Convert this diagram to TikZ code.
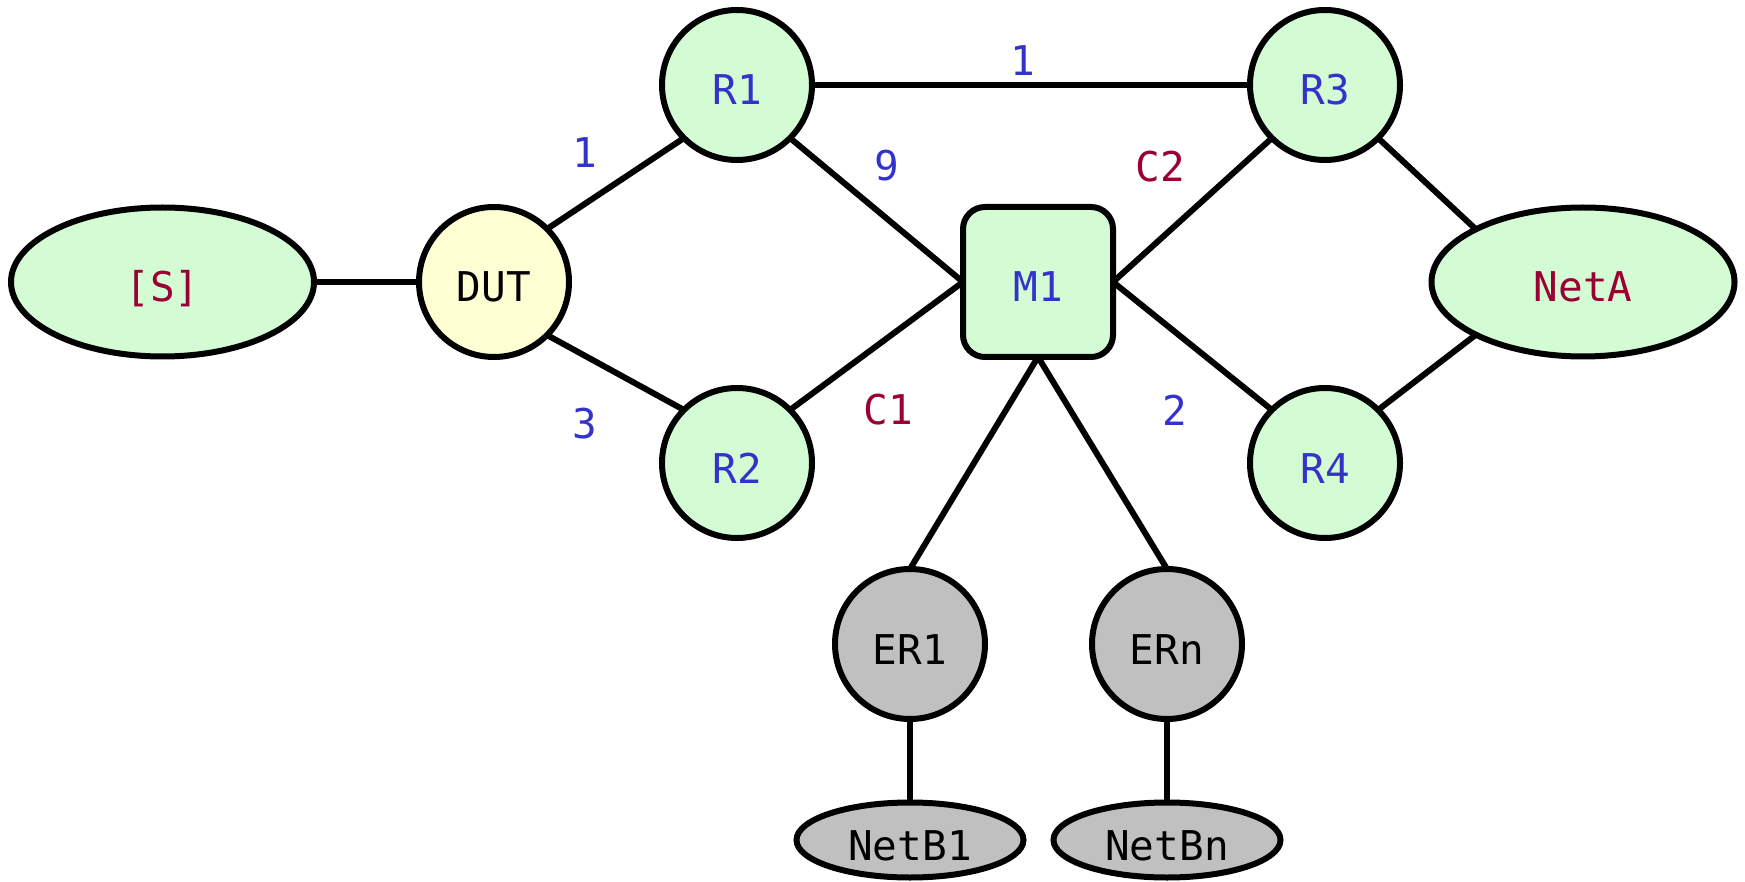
\documentclass[tikz,border=0pt]{standalone}
\usepackage{fontspec}
\setmonofont{DejaVu Sans Mono}
\usetikzlibrary{shapes.geometric}
\definecolor{nodegreen}{HTML}{D4FCD4}
\definecolor{nodeyellow}{HTML}{FFFFD4}
\definecolor{nodegray}{HTML}{C0C0C0}
\definecolor{lblblue}{HTML}{3333CC}
\definecolor{lblred}{HTML}{990033}
\tikzset{
  base/.style={draw=black, line width=6pt, inner sep=0pt, outer sep=0pt,
    text height=40pt, text depth=0pt,
    font=\ttfamily\fontsize{41}{41}\selectfont},
  router/.style={base, circle, minimum size=150pt, fill=nodegreen, text=lblblue},
  dut/.style={base, circle, minimum size=150pt, fill=nodeyellow, text=black},
  edger/.style={base, circle, minimum size=150pt, fill=nodegray, text=black},
  mbox/.style={base, rectangle, rounded corners=22pt, minimum size=150pt, fill=nodegreen, text=lblblue},
  bignet/.style={base, ellipse, minimum width=303pt, minimum height=149pt, fill=nodegreen, text=lblred},
  smallnet/.style={base, ellipse, minimum width=227pt, minimum height=75pt, fill=nodegray, text=black},
  link/.style={line width=6pt, draw=black},
  cost/.style={font=\ttfamily\fontsize{41}{41}\selectfont, text=lblblue, inner sep=0pt},
  cname/.style={font=\ttfamily\fontsize{41}{41}\selectfont, text=lblred, inner sep=0pt},
}
\begin{document}
\begin{tikzpicture}[x=1pt, y=-1pt]
  \useasboundingbox (0,0) rectangle (1745,882);

  % nodes
  \node[bignet] (S) at (162.5,282) {[S]};
  \node[dut] (DUT) at (494,282) {DUT};
  \node[router] (R1) at (737,85) {R1};
  \node[router] (R2) at (737,463) {R2};
  \node[router] (R3) at (1325,85) {R3};
  \node[router] (R4) at (1325,463) {R4};
  \node[mbox] (M1) at (1038,282) {M1};
  \node[bignet] (NetA) at (1583,282) {NetA};
  \node[edger] (ER1) at (910,644) {ER1};
  \node[edger] (ERn) at (1167,644) {ERn};
  \node[smallnet] (NetB1) at (910,840) {NetB1};
  \node[smallnet] (NetBn) at (1167,840) {NetBn};

  % links
  \draw[link] (S.east) -- (DUT.west);
  \draw[link] (DUT.north east) -- (R1.south west);
  \draw[link] (DUT.south east) -- (R2.north west);
  \draw[link] (R1.east) -- (R3.west);
  \draw[link] (R1.south east) -- (M1.west);
  \draw[link] (R2.north east) -- (M1.west);
  \draw[link] (M1.east) -- (R3.south west);
  \draw[link] (M1.east) -- (R4.north west);
  \draw[link] (R3.south east) -- (NetA.north west);
  \draw[link] (R4.north east) -- (NetA.south west);
  \draw[link] (M1.south) -- (ER1.north);
  \draw[link] (M1.south) -- (ERn.north);
  \draw[link] (ER1.south) -- (NetB1.north);
  \draw[link] (ERn.south) -- (NetBn.north);

  % link labels
  \node[cost] (c1) at (585,152.5) {1};
  \node[cost] (c3) at (585,424) {3};
  \node[cost] (c1top) at (1023,61) {1};
  \node[cost] (c9) at (887,166) {9};
  \node[cname] (lC1) at (888,410) {C1};
  \node[cname] (lC2) at (1160,167) {C2};
  \node[cost] (c2) at (1175,410) {2};
\end{tikzpicture}
\end{document}
